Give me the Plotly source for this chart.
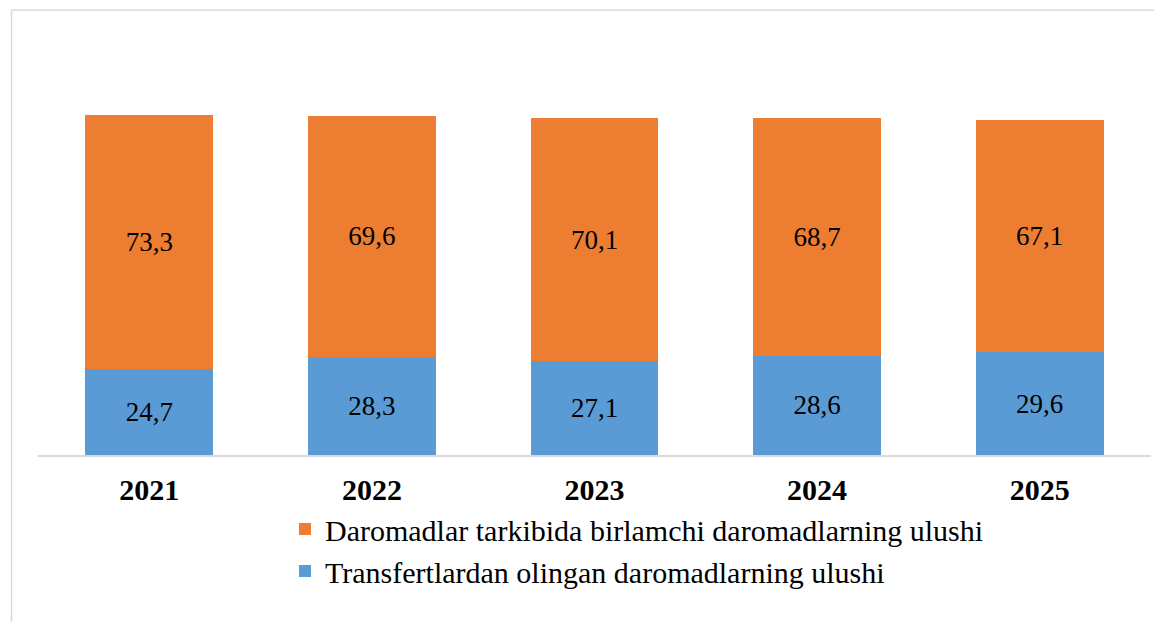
import plotly.graph_objects as go

years = ["2021", "2022", "2023", "2024", "2025"]
transfer_share = [24.7, 28.3, 27.1, 28.6, 29.6]
primary_share = [73.3, 69.6, 70.1, 68.7, 67.1]
transfer_labels = ["24,7", "28,3", "27,1", "28,6", "29,6"]
primary_labels = ["73,3", "69,6", "70,1", "68,7", "67,1"]
name_primary = "Daromadlar tarkibida birlamchi daromadlarning ulushi"
name_transfer = "Transfertlardan olingan daromadlarning ulushi"

# page body has an 8px margin, so figure coordinates are screen - 8
W, H = 1154, 614
L, R, T, B = 29.5, 1143.5, 31, 447

font_family = "Liberation Serif, Times New Roman, serif"

fig = go.Figure()
fig.add_trace(go.Bar(
    x=years, y=transfer_share, name=name_transfer,
    marker=dict(color="#5B9BD5", line=dict(width=0)),
    text=transfer_labels, textposition="inside", insidetextanchor="middle",
    textfont=dict(family=font_family, size=27, color="#000000"),
    textangle=0,
))
fig.add_trace(go.Bar(
    x=years, y=primary_share, name=name_primary,
    marker=dict(color="#ED7D31", line=dict(width=0)),
    text=primary_labels, textposition="inside", insidetextanchor="middle",
    textfont=dict(family=font_family, size=27, color="#000000"),
    textangle=0,
))

def px_x(x):
    return (x - L) / (R - L)

def px_y(y):
    return (B - y) / (B - T)

shapes = [
    dict(type="line", xref="paper", yref="paper", x0=px_x(3), x1=px_x(W + 2),
         y0=px_y(2), y1=px_y(2), line=dict(color="#D9D9D9", width=1.5)),
    dict(type="line", xref="paper", yref="paper", x0=px_x(3), x1=px_x(3),
         y0=px_y(2), y1=px_y(H + 2), line=dict(color="#D9D9D9", width=1.5)),
]

fig.update_layout(
    width=W, height=H,
    margin=dict(l=L, r=W - R, t=T, b=H - B, pad=0, autoexpand=False),
    barmode="stack", bargap=0.426,
    plot_bgcolor="white", paper_bgcolor="white",
    font=dict(family=font_family, color="#000000"),
    showlegend=True,
    legend=dict(
        traceorder="reversed",
        orientation="v",
        xref="container", yref="container",
        x=277 / W, y=1 - 495 / H, xanchor="left", yanchor="top",
        font=dict(family=font_family, size=30, color="#000000"),
        bgcolor="rgba(0,0,0,0)",
        itemclick=False,
        tracegroupgap=0,
    ),
    xaxis=dict(
        showline=True, linecolor="#D9D9D9", linewidth=1.5,
        ticks="", showgrid=False, tickangle=0,
        tickfont=dict(family=font_family, size=30, color="#000000", weight="bold"),
        ticklabelstandoff=7,
    ),
    yaxis=dict(
        range=[0, 120], visible=False, showgrid=False, zeroline=False,
    ),
    shapes=shapes,
)

fig.write_html("out.html")
